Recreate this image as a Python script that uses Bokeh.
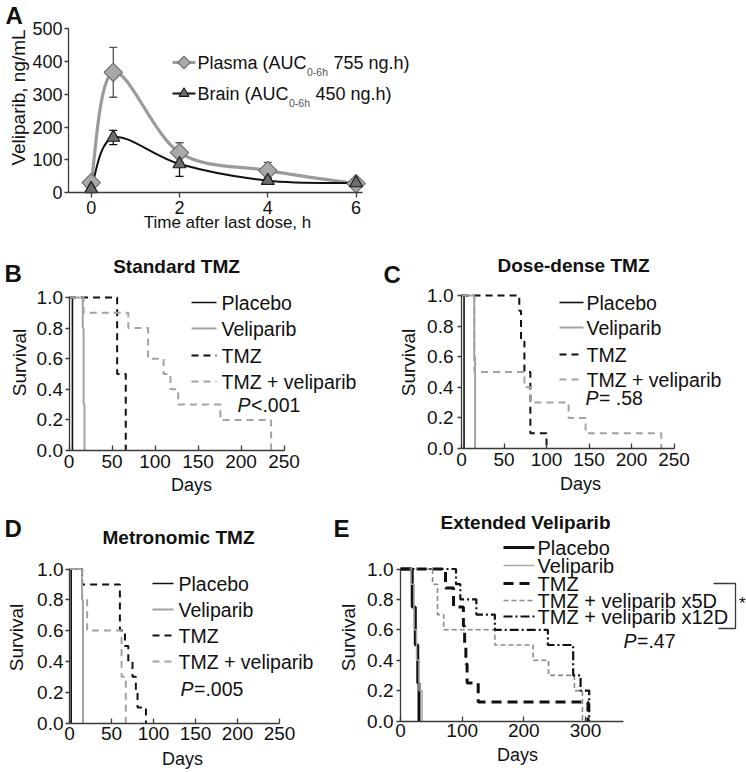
import math
from bokeh.plotting import figure
from bokeh.layouts import column, row
from bokeh.models import (Range1d, FixedTicker, NumeralTickFormatter, Label,
                          Whisker, ColumnDataSource, TeeHead)
from bokeh.embed import file_html
from bokeh.resources import INLINE

FONT = "Liberation Sans"

# ---------------- data: panel A (pharmacokinetics) ----------------
a_time = [0, 0.5, 2, 4, 6]
a_plasma = [30, 367, 122, 67, 27]
a_plasma_err = [0, 76, 30, 25, 0]
a_brain = [11, 168, 87, 36, 29]
a_brain_err = [0, 22, 38, 8, 0]
a_xticks = [0, 2, 4, 6]
a_yticks = [0, 100, 200, 300, 400, 500]

# ---------------- data: Kaplan-Meier panels ----------------
km_yticks = [0, 0.2, 0.4, 0.6, 0.8, 1.0]
bcd_xticks = [0, 50, 100, 150, 200, 250]
e_xticks = [0, 100, 200, 300]

# B: Standard TMZ
b_placebo_days = [0, 4]
b_placebo_surv = [1.0, 0.0]
b_veliparib_days = [0, 16, 17, 18]
b_veliparib_surv = [1.0, 0.8, 0.3, 0.0]
b_tmz_days = [0, 56, 66]
b_tmz_surv = [1.0, 0.5, 0.0]
b_tmzvel_days = [0, 17, 69, 92, 110, 118, 127, 176, 235]
b_tmzvel_surv = [1.0, 0.9, 0.8, 0.6, 0.5, 0.4, 0.3, 0.2, 0.0]

# C: Dose-dense TMZ
c_placebo_days = [0, 3]
c_placebo_surv = [1.0, 0.0]
c_veliparib_days = [0, 15, 16]
c_veliparib_surv = [1.0, 0.6, 0.0]
c_tmz_days = [0, 68, 70, 74, 81, 100]
c_tmz_surv = [1.0, 0.9, 0.7, 0.5, 0.1, 0.0]
c_tmzvel_days = [0, 15, 74, 81, 126, 146, 235]
c_tmzvel_surv = [1.0, 0.5, 0.4, 0.3, 0.2, 0.1, 0.0]

# D: Metronomic TMZ
d_placebo_days = [0, 2]
d_placebo_surv = [1.0, 0.0]
d_veliparib_days = [0, 15, 16]
d_veliparib_surv = [1.0, 0.8, 0.0]
d_tmz_days = [0, 15, 60, 66, 70, 75, 79, 81, 91]
d_tmz_surv = [1.0, 0.9, 0.6, 0.5, 0.4, 0.3, 0.2, 0.1, 0.0]
d_tmzvel_days = [0, 15, 21, 62, 67]
d_tmzvel_surv = [1.0, 0.8, 0.6, 0.3, 0.0]

# E: Extended Veliparib
e_placebo_days = [0, 19, 24, 28, 30]
e_placebo_surv = [1.0, 0.75, 0.5, 0.25, 0.0]
e_veliparib_days = [0, 17, 22, 26, 30, 35]
e_veliparib_surv = [1.0, 0.9, 0.6, 0.4, 0.2, 0.0]
e_tmz_days = [0, 73, 86, 102, 104, 106, 108, 126, 304]
e_tmz_surv = [1.0, 0.875, 0.75, 0.625, 0.5, 0.375, 0.25, 0.125, 0.0]
e_x5d_days = [0, 52, 60, 70, 153, 215, 240, 282, 295]
e_x5d_surv = [1.0, 0.9, 0.7, 0.6, 0.5, 0.4, 0.3, 0.2, 0.0]
e_x12d_days = [0, 90, 97, 123, 153, 239, 280, 292, 306]
e_x12d_surv = [1.0, 0.9, 0.8, 0.7, 0.6, 0.5, 0.3, 0.2, 0.0]

# ---------------- styling ----------------
GRAY = "#a3a3a3"
BLACK = "#111111"
AXIS = "#3a3a3a"
TXT = "#111111"

# Arial / Liberation Sans advance widths (per 1000 em)
AW = {"P": 667, "l": 222, "a": 556, "s": 500, "m": 833, " ": 278, "(": 333,
      "A": 667, "U": 722, "C": 722, "B": 667, "r": 333, "i": 222, "n": 556,
      "-": 333, "h": 556, "g": 556, ".": 278, ")": 333, "=": 584, "<": 584}


def tw(s, size):
    return sum(AW.get(c, 556) for c in s) * size / 1000.0


class Panel:
    """A figure whose frame fills the whole canvas; the axes sit at fixed data locations."""

    def __init__(self, fx, fy, w, h, x0, px0, sx, y0, py0, sy):
        self.x0, self.px0, self.sx = x0, px0, sx
        self.y0, self.py0, self.sy = y0, py0, sy
        p = figure(width=w, height=h,
                   x_range=Range1d(self.X(fx), self.X(fx + w)),
                   y_range=Range1d(self.Y(fy + h), self.Y(fy)),
                   output_backend="svg", toolbar_location=None, tools="")
        p.min_border = 0
        p.min_border_left = 0
        p.min_border_right = 0
        p.min_border_top = 0
        p.min_border_bottom = 0
        p.outline_line_color = None
        p.xgrid.visible = False
        p.ygrid.visible = False
        p.background_fill_color = "white"
        p.border_fill_color = "white"
        self.p = p

    def X(self, px):
        return self.x0 + (px - self.px0) / self.sx

    def Y(self, py):
        return self.y0 + (self.py0 - py) / self.sy

    def label(self, px, py, text, size, style="normal", align="left",
              angle=0.0, color=TXT, baseline="middle", dx=0):
        self.p.add_layout(Label(x=self.X(px), y=self.Y(py), text=text,
                                text_font=FONT, text_font_size=f"{size}px",
                                text_font_style=style, text_align=align,
                                text_baseline=baseline, angle=angle,
                                text_color=color, x_offset=dx))

    def pval(self, px, py, rest, size):
        self.label(px, py, "P", size, style="italic")
        self.label(px, py, rest, size, dx=tw("P", size) + 0.5)


def style_axes(pn, xticks, yticks, xb, yb, xin, xout, yin, yout,
               xstand, ystand, tsize, yfmt=None):
    p = pn.p
    xa, ya = p.xaxis[0], p.yaxis[0]
    for ax in (xa, ya):
        ax.axis_line_color = AXIS
        ax.axis_line_width = 1.3
        ax.major_tick_line_color = AXIS
        ax.major_tick_line_width = 1.3
        ax.minor_tick_line_color = None
        ax.major_label_text_font = FONT
        ax.major_label_text_font_size = f"{tsize}px"
        ax.major_label_text_color = TXT
    xa.ticker = FixedTicker(ticks=xticks)
    ya.ticker = FixedTicker(ticks=yticks)
    xa.bounds = xb
    ya.bounds = yb
    xa.fixed_location = yb[0]
    ya.fixed_location = xb[0]
    xa.major_tick_in, xa.major_tick_out = xin, xout
    ya.major_tick_in, ya.major_tick_out = yin, yout
    xa.major_label_standoff = xstand
    ya.major_label_standoff = ystand
    if yfmt is not None:
        ya.formatter = yfmt


def catmull(xs, ys):
    out = dict(x0=[], y0=[], x1=[], y1=[], cx0=[], cy0=[], cx1=[], cy1=[])
    n = len(xs)
    for i in range(n - 1):
        i0 = max(i - 1, 0)
        i3 = min(i + 2, n - 1)
        out["x0"].append(xs[i]); out["y0"].append(ys[i])
        out["x1"].append(xs[i + 1]); out["y1"].append(ys[i + 1])
        out["cx0"].append(xs[i] + (xs[i + 1] - xs[i0]) / 6.0)
        out["cy0"].append(ys[i] + (ys[i + 1] - ys[i0]) / 6.0)
        out["cx1"].append(xs[i + 1] - (xs[i3] - xs[i]) / 6.0)
        out["cy1"].append(ys[i + 1] - (ys[i3] - ys[i]) / 6.0)
    return ColumnDataSource(out)


def whisker(p, xs, ys, errs, color):
    keep = [i for i, e in enumerate(errs) if e > 0]
    src = ColumnDataSource(dict(x=[xs[i] for i in keep],
                                upper=[ys[i] + errs[i] for i in keep],
                                lower=[ys[i] - errs[i] for i in keep]))
    w = Whisker(source=src, base="x", upper="upper", lower="lower",
                dimension="height", line_color=color, line_width=1.3,
                upper_head=TeeHead(size=8, line_color=color, line_width=1.3),
                lower_head=TeeHead(size=8, line_color=color, line_width=1.3))
    w.level = "underlay"
    p.add_layout(w)


# ================= Panel A =================
A = Panel(0, 0, 746, 240, 0, 90.7, 44.15, 0, 192, 0.3274)
pa = A.p
style_axes(A, a_xticks, a_yticks, (A.X(68), 6.15), (0, 500), 0, 5, 0, 4, 3, 2, 18)
whisker(pa, a_time, a_plasma, a_plasma_err, "#555555")
whisker(pa, a_time, a_brain, a_brain_err, "#111111")
pa.bezier(x0="x0", y0="y0", x1="x1", y1="y1", cx0="cx0", cy0="cy0",
          cx1="cx1", cy1="cy1", source=catmull(a_time, a_plasma),
          line_color="#9b9b9b", line_width=3.2)
pa.bezier(x0="x0", y0="y0", x1="x1", y1="y1", cx0="cx0", cy0="cy0",
          cx1="cx1", cy1="cy1", source=catmull(a_time, a_brain),
          line_color=BLACK, line_width=2)
pa.scatter(a_time, a_plasma, marker="square", angle=math.pi / 4, size=13,
           fill_color="#a8a8a8", line_color="#6f6f6f", line_width=1.2)
pa.scatter(a_time, a_brain, marker="triangle", size=13,
           fill_color="#6d6d6d", line_color="#1a1a1a", line_width=1.2)
# legend A
for ly, lc, lw, mk, msz, mf, ml in [(62, "#9b9b9b", 3, "square", 9, "#a8a8a8", "#6f6f6f"),
                                     (93, BLACK, 2, "triangle", 10, "#6d6d6d", "#1a1a1a")]:
    pa.line(x=[A.X(172), A.X(195)], y=[A.Y(ly), A.Y(ly)], line_color=lc, line_width=lw)
    pa.scatter(x=[A.X(183.5)], y=[A.Y(ly)], marker=mk, size=msz,
               angle=(math.pi / 4 if mk == "square" else 0.0),
               fill_color=mf, line_color=ml, line_width=1.1)
for ly, head, tail in [(62, "Plasma (AUC", "755 ng.h)"), (93, "Brain (AUC", "450 ng.h)")]:
    A.label(197, ly, head, 18)
    A.label(197, ly + 9, "0-6h", 10.5, color="#555555", dx=tw(head, 18) + 0.5)
    A.label(197, ly, tail, 18, dx=tw(head, 18) + tw("0-6h", 10.5) + tw(" ", 18) + 1)
A.label(5, 15, "A", 24, style="bold")
A.label(227, 222, "Time after last dose, h", 17, align="center")
A.label(17.5, 97, "Veliparib, ng/mL", 19, align="center", angle=math.pi / 2)

# ================= KM helpers =================
ST_PLACEBO = dict(line_color=BLACK, line_width=1.6, line_dash="solid")
ST_VEL = dict(line_color=GRAY, line_width=2, line_dash="solid")
ST_TMZ = dict(line_color=BLACK, line_width=2, line_dash="7 5")
ST_TV = dict(line_color=GRAY, line_width=2, line_dash="7 5")


def km_panel(pn, series, leg_x0, leg_x1, text_x, rows, size):
    p = pn.p
    for days, surv, name, st in series:
        p.step(x=days, y=surv, mode="after", **st)
    for (days, surv, name, st), ry in zip(series, rows):
        p.line(x=[pn.X(leg_x0), pn.X(leg_x1)], y=[pn.Y(ry), pn.Y(ry)], **st)
        pn.label(text_x, ry, name, size)


LEG = 19.5
TICK = 19

# ================= Panel B =================
B = Panel(0, 240, 373, 257, 0, 68.5, 0.86, 0, 450, 153)
style_axes(B, bcd_xticks, km_yticks, (0, 250), (0, 1), 5, 0, 0, 4, 4, 2, TICK,
           NumeralTickFormatter(format="0.0"))
km_panel(B, [(b_placebo_days, b_placebo_surv, "Placebo", ST_PLACEBO),
             (b_veliparib_days, b_veliparib_surv, "Veliparib", ST_VEL),
             (b_tmz_days, b_tmz_surv, "TMZ", ST_TMZ),
             (b_tmzvel_days, b_tmzvel_surv, "TMZ + veliparib", ST_TV)],
         191, 216, 221, [302, 328, 355, 381], LEG)
B.pval(237, 404, "<.001", LEG)
B.label(176, 266, "Standard TMZ", 19, style="bold", align="center")
B.label(4, 273, "B", 24, style="bold")
B.label(191, 484, "Days", 18, align="center")
B.label(18.5, 362, "Survival", 19, align="center", angle=math.pi / 2)

# ================= Panel C =================
C = Panel(373, 240, 373, 257, 0, 461, 0.85, 0, 448, 153)
style_axes(C, bcd_xticks, km_yticks, (0, 250), (0, 1), 5, 0, 0, 4, 4, 4, TICK,
           NumeralTickFormatter(format="0.0"))
km_panel(C, [(c_placebo_days, c_placebo_surv, "Placebo", ST_PLACEBO),
             (c_veliparib_days, c_veliparib_surv, "Veliparib", ST_VEL),
             (c_tmz_days, c_tmz_surv, "TMZ", ST_TMZ),
             (c_tmzvel_days, c_tmzvel_surv, "TMZ + veliparib", ST_TV)],
         559, 583, 586, [302, 327, 354, 379], LEG)
C.pval(585, 397, "= .58", LEG)
C.label(573, 265, "Dose-dense TMZ", 19, style="bold", align="center")
C.label(383, 274, "C", 24, style="bold")
C.label(580, 483, "Days", 18, align="center")
C.label(408, 362, "Survival", 19, align="center", angle=math.pi / 2)

# ================= Panel D =================
D = Panel(0, 497, 328, 275, 0, 69, 0.84, 0, 722.5, 154)
style_axes(D, bcd_xticks, km_yticks, (0, 250), (0, 1), 5, 0, 0, 4, 4, 2, TICK,
           NumeralTickFormatter(format="0.0"))
km_panel(D, [(d_placebo_days, d_placebo_surv, "Placebo", ST_PLACEBO),
             (d_veliparib_days, d_veliparib_surv, "Veliparib", ST_VEL),
             (d_tmz_days, d_tmz_surv, "TMZ", ST_TMZ),
             (d_tmzvel_days, d_tmzvel_surv, "TMZ + veliparib", ST_TV)],
         152, 173, 178, [583, 609, 635, 661], LEG)
D.pval(180, 688, "=.005", LEG)
D.label(178, 537, "Metronomic TMZ", 19, style="bold", align="center")
D.label(4, 528, "D", 24, style="bold")
D.label(182, 758, "Days", 18, align="center")
D.label(15.5, 637, "Survival", 19, align="center", angle=math.pi / 2)

# ================= Panel E =================
E = Panel(328, 497, 418, 275, 0, 400, 0.6167, 0, 720.5, 152)
style_axes(E, e_xticks, km_yticks, (0, 362), (0, 1), 5, 0, 0, 4, 3, 3, TICK,
           NumeralTickFormatter(format="0.0"))
E_PLACEBO = dict(line_color=BLACK, line_width=3, line_dash="solid")
E_VEL = dict(line_color="#a8a8a8", line_width=1.5, line_dash="solid")
E_TMZ = dict(line_color=BLACK, line_width=3, line_dash="10 6")
E_X5D = dict(line_color="#8a8a8a", line_width=1.6, line_dash="5 3")
E_X12D = dict(line_color=BLACK, line_width=2.2, line_dash="9 3 2 3")
km_panel(E, [(e_placebo_days, e_placebo_surv, "Placebo", E_PLACEBO),
             (e_veliparib_days, e_veliparib_surv, "Veliparib", E_VEL),
             (e_tmz_days, e_tmz_surv, "TMZ", E_TMZ),
             (e_x5d_days, e_x5d_surv, "TMZ + veliparib x5D", E_X5D),
             (e_x12d_days, e_x12d_surv, "TMZ + veliparib x12D", E_X12D)],
         503, 534, 537, [547, 565, 583, 600, 616], 20)
E.p.line(x=[E.X(713), E.X(735), E.X(735), E.X(718)],
         y=[E.Y(583), E.Y(583), E.Y(628), E.Y(628)],
         line_color=AXIS, line_width=1.3)
E.label(738.5, 603, "*", 17)
E.pval(623, 640, "=.47", LEG)
E.label(525, 522, "Extended Veliparib", 19, style="bold", align="center")
E.label(333, 528, "E", 24, style="bold")
E.label(517, 754, "Days", 18, align="center")
E.label(347.5, 637, "Survival", 19, align="center", angle=math.pi / 2)

layout = column(A.p, row(B.p, C.p), row(D.p, E.p))
open("out.html", "w").write(file_html(layout, INLINE, "Veliparib"))
